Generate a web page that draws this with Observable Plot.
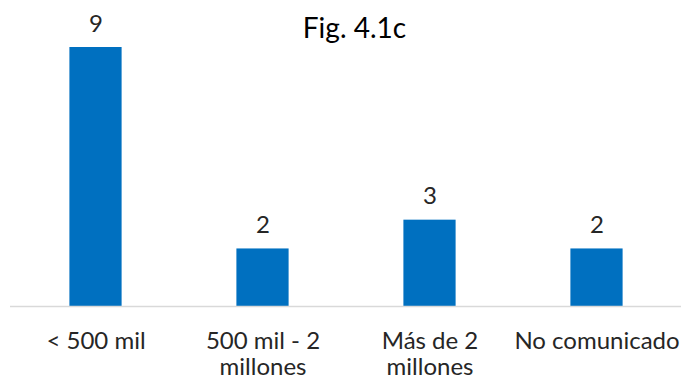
<!DOCTYPE html>
<html>
<head>
<meta charset="utf-8">
<script src="https://cdn.jsdelivr.net/npm/d3@7"></script>
<script src="https://cdn.jsdelivr.net/npm/@observablehq/plot@0.6"></script>
<style>
  html, body { margin: 0; padding: 0; background: #fff; }
  #chart { position: relative; width: 681px; height: 380px; font-family: Lato, "Open Sans", sans-serif; }
  #title {
    position: absolute; left: 0; width: 709px; top: 13px;
    text-align: center; font-size: 28px; line-height: 1; color: #000;
  }
</style>
</head>
<body>
<div id="chart">
  <div id="title">Fig. 4.1c</div>
</div>
<script>
// Number of cases by population size
const categories = ["< 500 mil", "500 mil - 2 millones", "Más de 2 millones", "No comunicado"];
const counts = [9, 2, 3, 2];
const tickLabels = ["< 500 mil", "500 mil - 2\nmillones", "Más de 2\nmillones", "No comunicado"];

const data = categories.map((c, i) => ({category: c, value: counts[i]}));
const labelOf = new Map(categories.map((c, i) => [c, tickLabels[i]]));

const textColor = "#262626";

const plot = Plot.plot({
  width: 681,
  height: 380,
  marginLeft: 10,
  marginRight: 0,
  marginTop: 47,
  marginBottom: 74,
  style: {fontFamily: "Lato, 'Open Sans', sans-serif", background: "transparent"},
  x: {domain: categories, padding: 0},
  y: {domain: [0, 9], axis: null},
  marks: [
    Plot.barY(data, {x: "category", y: "value", fill: "#0070C0", insetLeft: 57.4, insetRight: 57.4}),
    Plot.ruleY([0], {stroke: "#d9d9d9", strokeWidth: 1.5}),
    Plot.text(data, {
      x: "category", y: "value", text: d => String(d.value),
      lineAnchor: "bottom", dy: -16, fontSize: 24, fill: textColor
    }),
    Plot.axisX({
      tickSize: 0, tickPadding: 23, fontSize: 24, lineHeight: 1.12,
      tickFormat: d => labelOf.get(d), fill: textColor, label: null
    })
  ]
});

document.getElementById("chart").appendChild(plot);
</script>
</body>
</html>
